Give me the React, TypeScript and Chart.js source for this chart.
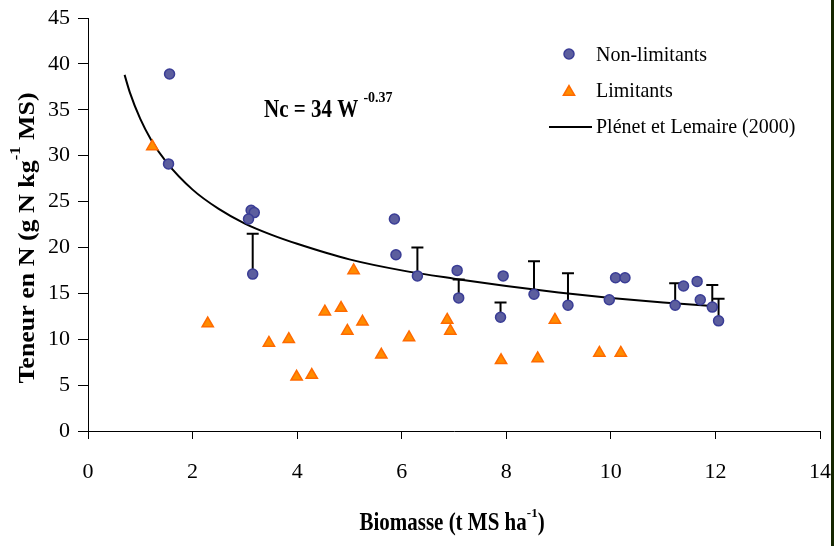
import React, { useEffect, useRef } from "react";
import { Chart, registerables } from "chart.js";

Chart.register(...registerables);

// Non-limitants (blue circles)
const nonLimX = [1.56, 1.54, 3.12, 3.18, 3.07, 3.15, 5.86, 5.89, 6.30, 7.06, 7.09, 7.94, 7.89, 8.53, 9.18, 9.97, 10.09, 10.27, 11.23, 11.39, 11.65, 11.71, 11.94, 12.06];
const nonLimY = [38.9, 29.1, 24.05, 23.8, 23.1, 17.1, 23.1, 19.2, 16.9, 17.5, 14.5, 16.9, 12.4, 14.9, 13.7, 14.3, 16.7, 16.7, 13.7, 15.8, 16.3, 14.3, 13.5, 12.0];
// upper end of the one-sided error bars (null = none)
const nonLimErrTop: (number | null)[] = [null, null, null, null, null, 21.5, null, null, 20.0, null, 16.5, null, 14.0, 18.5, 17.2, null, null, null, 16.1, null, null, null, 15.9, 14.4];

// Limitants (orange triangles)
const limX = [1.23, 2.29, 3.46, 3.84, 3.99, 4.28, 4.53, 4.84, 4.96, 5.08, 5.25, 5.61, 6.14, 6.87, 6.93, 7.90, 8.60, 8.93, 9.78, 10.19];
const limY = [31.0, 11.7, 9.6, 10.0, 5.9, 6.1, 13.0, 13.4, 10.9, 17.5, 11.9, 8.3, 10.2, 12.1, 10.9, 7.7, 7.9, 12.1, 8.5, 8.5];

// Plénet et Lemaire (2000) critical curve
const curveX = [0.7, 0.8, 1, 1.2, 1.5, 2, 2.5, 3, 3.5, 4, 5, 6, 7, 8, 9, 10, 11, 12];
const curveY = [38.8, 36.9, 34.0, 31.8, 29.3, 26.3, 24.2, 22.6, 21.4, 20.4, 18.7, 17.5, 16.6, 15.8, 15.1, 14.5, 14.0, 13.6];

const xTicksMin = 0, xTicksMax = 14, xStep = 2;
const yTicksMin = 0, yTicksMax = 45, yStep = 5;

const SERIF = "'Liberation Serif', 'Times New Roman', serif";
const CIRCLE_FILL = "#5c5e9e";
const CIRCLE_BORDER = "#3a3d96";
const TRI_FILL = "#ff8c00";
const TRI_BORDER = "#ff6a00";

type Part = { t: string; sup?: boolean };

function richWidth(ctx: CanvasRenderingContext2D, parts: Part[], size: number, supSize: number, bold: boolean) {
  let w = 0;
  for (const p of parts) {
    ctx.font = `${bold ? "bold " : ""}${p.sup ? supSize : size}px ${SERIF}`;
    w += ctx.measureText(p.t).width;
  }
  return w;
}

function drawRich(
  ctx: CanvasRenderingContext2D,
  parts: Part[],
  x: number,
  baseline: number,
  size: number,
  supSize: number,
  bold: boolean,
  supRise: number,
  stretch: number
) {
  let cx = x;
  for (const p of parts) {
    ctx.font = `${bold ? "bold " : ""}${p.sup ? supSize : size}px ${SERIF}`;
    ctx.save();
    ctx.translate(cx, baseline - (p.sup ? supRise : 0));
    ctx.scale(1, p.sup ? 1 : stretch);
    ctx.textBaseline = "alphabetic";
    ctx.textAlign = "left";
    ctx.fillStyle = "#000";
    ctx.fillText(p.t, 0, 0);
    ctx.restore();
    cx += ctx.measureText(p.t).width;
  }
}

export default function App() {
  const ref = useRef<HTMLCanvasElement>(null);

  useEffect(() => {
    const canvas = ref.current!;
    const errorBars = {
      id: "errorBars",
      beforeDatasetsDraw(chart: any) {
        const c = chart.ctx as CanvasRenderingContext2D;
        const xs = chart.scales.x;
        const ys = chart.scales.y;
        c.save();
        c.strokeStyle = "#000";
        c.lineWidth = 2;
        nonLimErrTop.forEach((top, i) => {
          if (top == null) return;
          const px = xs.getPixelForValue(nonLimX[i]);
          const py0 = ys.getPixelForValue(nonLimY[i]);
          const py1 = ys.getPixelForValue(top);
          c.beginPath();
          c.moveTo(px, py0);
          c.lineTo(px, py1);
          c.moveTo(px - 6, py1);
          c.lineTo(px + 6, py1);
          c.stroke();
        });
        c.restore();
      },
    };

    const annotations = {
      id: "annotations",
      afterDraw(chart: any) {
        const c = chart.ctx as CanvasRenderingContext2D;
        c.save();
        // equation
        drawRich(c, [{ t: "Nc = 34 W " }, { t: "-0.37", sup: true }], 264, 117, 21, 14, true, 15, 1.2);

        // legend
        c.beginPath();
        c.arc(569, 54, 5, 0, Math.PI * 2);
        c.fillStyle = CIRCLE_FILL;
        c.fill();
        c.lineWidth = 1.5;
        c.strokeStyle = CIRCLE_BORDER;
        c.stroke();
        drawRich(c, [{ t: "Non-limitants" }], 596, 61, 20, 12, false, 0, 1.1);

        const tr = 6.5, tx = 569, ty = 92;
        c.beginPath();
        for (let k = 0; k < 3; k++) {
          const a = (k * 2 * Math.PI) / 3;
          const px = tx + Math.sin(a) * tr;
          const py = ty - Math.cos(a) * tr;
          if (k === 0) c.moveTo(px, py);
          else c.lineTo(px, py);
        }
        c.closePath();
        c.fillStyle = TRI_FILL;
        c.fill();
        c.strokeStyle = TRI_BORDER;
        c.stroke();
        drawRich(c, [{ t: "Limitants" }], 596, 97, 20, 12, false, 0, 1.1);

        c.beginPath();
        c.moveTo(549, 127);
        c.lineTo(592, 127);
        c.lineWidth = 2;
        c.strokeStyle = "#000";
        c.stroke();
        drawRich(c, [{ t: "Plénet et Lemaire (2000)" }], 596, 133, 20, 12, false, 0, 1.1);

        // x title
        const xParts: Part[] = [{ t: "Biomasse (t MS ha" }, { t: "-1", sup: true }, { t: ")" }];
        const xw = richWidth(c, xParts, 21, 13, true);
        drawRich(c, xParts, 452 - xw / 2, 530, 21, 13, true, 13, 1.17);

        // y title (rotated)
        const yParts: Part[] = [{ t: "Teneur en N (g N kg" }, { t: "-1", sup: true }, { t: " MS)" }];
        c.save();
        c.translate(34, 238);
        c.rotate(-Math.PI / 2);
        const ys = 1.18;
        const yw = richWidth(c, yParts, 22, 14, true) * ys;
        c.scale(ys, 1);
        drawRich(c, yParts, -yw / 2 / ys, 0, 22, 14, true, 14, 1.08);
        c.restore();

        // right border line
        c.fillStyle = "#142600";
        c.fillRect(831, 0, 3, 546);
        c.restore();
      },
    };

    const chart = new Chart(canvas, {
      type: "scatter",
      data: {
        datasets: [
          {
            label: "Non-limitants",
            data: nonLimX.map((x, i) => ({ x, y: nonLimY[i] })),
            pointStyle: "circle",
            pointRadius: 5,
            backgroundColor: CIRCLE_FILL,
            borderColor: CIRCLE_BORDER,
            borderWidth: 1.5,
            order: 1,
          },
          {
            label: "Limitants",
            data: limX.map((x, i) => ({ x, y: limY[i] })),
            pointStyle: "triangle",
            pointRadius: 6.5,
            backgroundColor: TRI_FILL,
            borderColor: TRI_BORDER,
            borderWidth: 1.5,
            order: 2,
          },
          {
            type: "line",
            label: "Plénet et Lemaire (2000)",
            data: curveX.map((x, i) => ({ x, y: curveY[i] })),
            borderColor: "#000",
            borderWidth: 2,
            pointRadius: 0,
            showLine: true,
            fill: false,
            cubicInterpolationMode: "monotone",
            order: 3,
          } as any,
        ],
      },
      options: {
        responsive: false,
        animation: false,
        layout: { padding: { top: 18, right: 15, left: 0, bottom: 0 } },
        plugins: { legend: { display: false }, tooltip: { enabled: false } },
        scales: {
          x: {
            type: "linear",
            min: xTicksMin,
            max: xTicksMax,
            ticks: { stepSize: xStep, color: "#000", font: { family: SERIF, size: 22 }, padding: 20, maxRotation: 0 },
            grid: { drawOnChartArea: false, tickLength: 8, color: "#000" },
            border: { color: "#000", width: 1 },
            afterFit: (s: any) => {
              s.height = 115;
              s.paddingLeft = 0;
              s.paddingRight = 0;
            },
          },
          y: {
            type: "linear",
            min: yTicksMin,
            max: yTicksMax,
            ticks: { stepSize: yStep, color: "#000", font: { family: SERIF, size: 22 }, padding: 8 },
            grid: { drawOnChartArea: false, tickLength: 10, color: "#000" },
            border: { color: "#000", width: 1 },
            afterFit: (s: any) => {
              s.width = 88;
              s.paddingTop = 0;
              s.paddingBottom = 0;
            },
          },
        },
      },
      plugins: [errorBars, annotations],
    });
    return () => chart.destroy();
  }, []);

  return (
    <div style={{ position: "fixed", left: 0, top: 0, width: 835, height: 546, background: "#fff" }}>
      <canvas ref={ref} width={835} height={546} style={{ width: 835, height: 546, display: "block" }} />
    </div>
  );
}
